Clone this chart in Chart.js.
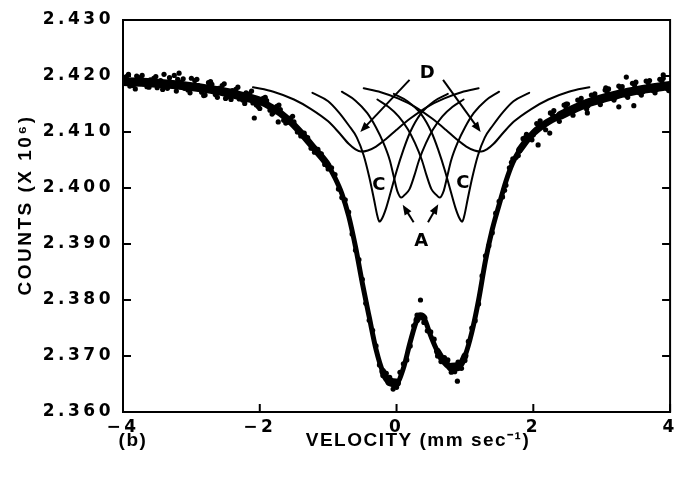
<!DOCTYPE html>
<html>
<head>
<meta charset="utf-8">
<script src="https://cdn.jsdelivr.net/npm/chart.js@4.4.0/dist/chart.umd.min.js"></script>
<style>
  html, body { margin: 0; padding: 0; background: #fff; }
</style>
</head>
<body>
<canvas id="spectrum" width="681" height="477"></canvas>
<script>
// Fitted envelope (velocity in mm/s, counts in 10^6)
const fitVel = [-4, -3.5, -3, -2.5, -2.2, -2, -1.8, -1.6, -1.4, -1.2,
  -1, -0.9, -0.8, -0.7, -0.6, -0.5, -0.4, -0.3, -0.2, -0.1,
  0, 0.1, 0.2, 0.3, 0.35, 0.4, 0.5, 0.6, 0.7, 0.8,
  0.9, 1, 1.1, 1.2, 1.3, 1.4, 1.5, 1.6, 1.7, 1.8,
  2, 2.2, 2.4, 2.8, 3.2, 3.6, 4];
const fitCounts = [2.4190, 2.4187, 2.4181, 2.4171, 2.4162, 2.4155, 2.4142, 2.4124, 2.4099, 2.4070,
  2.4040, 2.4018, 2.3990, 2.3950, 2.3895, 2.3830, 2.3770, 2.3712, 2.3672, 2.3654,
  2.3652, 2.3678, 2.3725, 2.3765, 2.3772, 2.3768, 2.3736, 2.3708, 2.3690, 2.3680,
  2.3681, 2.3700, 2.3742, 2.3800, 2.3870, 2.3926, 2.3970, 2.4012, 2.4045, 2.4068,
  2.4098, 2.4117, 2.4130, 2.4152, 2.4166, 2.4176, 2.4183];

// Measured points
const scatterVel = [-3.95, -3.90, -3.85, -3.80, -3.75, -3.70, -3.65, -3.60, -3.55, -3.50,
  -3.45, -3.40, -3.35, -3.30, -3.25, -3.20, -3.15, -3.10, -3.05, -3.00,
  -2.95, -2.90, -2.85, -2.80, -2.75, -2.70, -2.65, -2.60, -2.55, -2.50,
  -2.45, -2.40, -2.35, -2.30, -2.25, -2.20, -2.15, -2.10, -2.05, -2.00,
  -1.95, -1.90, -1.85, -1.80, -1.75, -1.70, -1.65, -1.60, -1.55, -1.50,
  -1.45, -1.40, -1.35, -1.30, -1.25, -1.20, -1.15, -1.10, -1.05, -1.00,
  -0.95, -0.90, -0.85, -0.80, -0.75, -0.70, -0.65, -0.60, -0.55, -0.50,
  -0.45, -0.40, -0.35, -0.30, -0.25, -0.20, -0.15, -0.10, -0.05, 0.00,
  0.05, 0.10, 0.15, 0.20, 0.25, 0.30, 0.35, 0.40, 0.45, 0.50,
  0.55, 0.60, 0.65, 0.70, 0.75, 0.80, 0.85, 0.90, 0.95, 1.00,
  1.05, 1.10, 1.15, 1.20, 1.25, 1.30, 1.35, 1.40, 1.45, 1.50,
  1.55, 1.60, 1.65, 1.70, 1.75, 1.80, 1.85, 1.90, 1.95, 2.00,
  2.05, 2.10, 2.15, 2.20, 2.25, 2.30, 2.35, 2.40, 2.45, 2.50,
  2.55, 2.60, 2.65, 2.70, 2.75, 2.80, 2.85, 2.90, 2.95, 3.00,
  3.05, 3.10, 3.15, 3.20, 3.25, 3.30, 3.35, 3.40, 3.45, 3.50,
  3.55, 3.60, 3.65, 3.70, 3.75, 3.80, 3.85, 3.90, 3.95];
const scatterCounts = [2.4199, 2.4182, 2.4183, 2.4200, 2.4197, 2.4186, 2.4181, 2.4193, 2.4196, 2.4179,
  2.4192, 2.4203, 2.4178, 2.4184, 2.4201, 2.4194, 2.4189, 2.4178, 2.4175, 2.4196,
  2.4192, 2.4183, 2.4171, 2.4166, 2.4188, 2.4185, 2.4167, 2.4178, 2.4183, 2.4160,
  2.4163, 2.4174, 2.4176, 2.4159, 2.4157, 2.4170, 2.4168, 2.4152, 2.4148, 2.4142,
  2.4160, 2.4156, 2.4139, 2.4135, 2.4146, 2.4140, 2.4121, 2.4117, 2.4125, 2.4118,
  2.4100, 2.4093, 2.4098, 2.4090, 2.4071, 2.4064, 2.4069, 2.4061, 2.4042, 2.4034,
  2.4036, 2.4024, 2.3998, 2.3983, 2.3979, 2.3957, 2.3918, 2.3889, 2.3872, 2.3837,
  2.3794, 2.3764, 2.3746, 2.3718, 2.3684, 2.3665, 2.3669, 2.3662, 2.3641, 2.3644,
  2.3671, 2.3686, 2.3693, 2.3718, 2.3754, 2.3773, 2.3800, 2.3760, 2.3745, 2.3743,
  2.3730, 2.3700, 2.3690, 2.3697, 2.3693, 2.3671, 2.3672, 2.3689, 2.3678, 2.3692,
  2.3726, 2.3750, 2.3763, 2.3793, 2.3843, 2.3879, 2.3897, 2.3920, 2.3955, 2.3976,
  2.3984, 2.4005, 2.4036, 2.4052, 2.4055, 2.4066, 2.4088, 2.4096, 2.4090, 2.4095,
  2.4115, 2.4120, 2.4111, 2.4116, 2.4134, 2.4138, 2.4125, 2.4129, 2.4148, 2.4150,
  2.4136, 2.4139, 2.4157, 2.4160, 2.4145, 2.4147, 2.4166, 2.4168, 2.4154, 2.4156,
  2.4175, 2.4177, 2.4160, 2.4162, 2.4182, 2.4181, 2.4166, 2.4169, 2.4187, 2.4189,
  2.4170, 2.4172, 2.4191, 2.4192, 2.4174, 2.4176, 2.4194, 2.4196, 2.4178];
// extra points in the shallow wings
const wingVel = [-3.92, -3.82, -3.72, -3.62, -3.52, -3.42, -3.32, -3.22, -3.12, -3.02,
  -2.92, -2.82, -2.72, -2.62, -2.52, -2.42, -2.32, -2.22, -2.12, -2.02,
  -1.92, -1.82, -1.72, -1.62, -1.52,
  1.58, 1.68, 1.78, 1.88, 1.98, 2.08, 2.18, 2.28, 2.38, 2.48,
  2.58, 2.68, 2.78, 2.88, 2.98, 3.08, 3.18, 3.28, 3.38, 3.48,
  3.58, 3.68, 3.78, 3.88, 3.98];
const wingCounts = [2.4203, 2.4177, 2.4201, 2.4180, 2.4199, 2.4176, 2.4197, 2.4173, 2.4195, 2.4170,
  2.4194, 2.4165, 2.4190, 2.4162, 2.4186, 2.4158, 2.4180, 2.4151, 2.4173, 2.4145,
  2.4162, 2.4132, 2.4148, 2.4116, 2.4128,
  2.3996, 2.4046, 2.4058, 2.4090, 2.4086, 2.4113, 2.4104, 2.4131, 2.4119, 2.4143,
  2.4130, 2.4156, 2.4141, 2.4164, 2.4149, 2.4171, 2.4157, 2.4178, 2.4162, 2.4184,
  2.4166, 2.4188, 2.4170, 2.4191, 2.4174];
// stray points off the band
const strayVel = [-3.18, -2.08, -1.73, 0.89, 2.07, 2.24, 2.48, 2.79, 3.06, 3.25, 3.36, 3.47, 3.90];
const strayCounts = [2.4205, 2.4125, 2.4118, 2.3655, 2.4077, 2.4098, 2.4150, 2.4134, 2.4179, 2.4145, 2.4198, 2.4147, 2.4202];

// Component sub-spectra
const dLeftVel = [-2.10, -1.80, -1.50, -1.25, -1.00, -0.85, -0.70, -0.60, -0.52, -0.42, -0.30, -0.15, 0.00, 0.20, 0.45, 0.70, 0.95, 1.20];
const dLeftCounts = [2.4180, 2.4172, 2.4158, 2.4141, 2.4119, 2.4100, 2.4079, 2.4069, 2.4065, 2.4067, 2.4074, 2.4088, 2.4104, 2.4124, 2.4145, 2.4160, 2.4171, 2.4178];
const dRightVel = [-0.48, -0.23, 0.02, 0.27, 0.52, 0.72, 0.87, 1.02, 1.14, 1.24, 1.32, 1.42, 1.57, 1.72, 1.97, 2.22, 2.52, 2.82];
const dRightCounts = [2.4178, 2.4171, 2.4160, 2.4145, 2.4124, 2.4104, 2.4088, 2.4074, 2.4067, 2.4065, 2.4069, 2.4079, 2.4100, 2.4119, 2.4141, 2.4158, 2.4172, 2.4180];
const cLeftVel = [-1.23, -1.00, -0.85, -0.70, -0.58, -0.48, -0.40, -0.33, -0.28, -0.25, -0.21, -0.15, -0.08, 0.00, 0.10, 0.20, 0.35, 0.55, 0.75];
const cLeftCounts = [2.4170, 2.4155, 2.4136, 2.4112, 2.4090, 2.4058, 2.4020, 2.3980, 2.3950, 2.3940, 2.3946, 2.3965, 2.3995, 2.4030, 2.4068, 2.4100, 2.4132, 2.4155, 2.4168];
const cRightVel = [-0.04, 0.16, 0.36, 0.51, 0.61, 0.71, 0.79, 0.86, 0.92, 0.96, 0.99, 1.04, 1.11, 1.19, 1.29, 1.41, 1.56, 1.71, 1.94];
const cRightCounts = [2.4168, 2.4155, 2.4132, 2.4100, 2.4068, 2.4030, 2.3995, 2.3965, 2.3946, 2.3940, 2.3950, 2.3980, 2.4020, 2.4058, 2.4090, 2.4112, 2.4136, 2.4155, 2.4170];
const aLeftVel = [-0.80, -0.60, -0.43, -0.30, -0.19, -0.10, -0.04, 0.01, 0.07, 0.12, 0.19, 0.26, 0.33, 0.43, 0.53, 0.67, 0.82, 0.98];
const aLeftCounts = [2.4172, 2.4156, 2.4134, 2.4108, 2.4080, 2.4050, 2.4020, 2.3995, 2.3983, 2.3988, 2.3998, 2.4022, 2.4050, 2.4080, 2.4104, 2.4128, 2.4145, 2.4158];
const aRightVel = [-0.28, -0.12, 0.03, 0.17, 0.27, 0.37, 0.44, 0.51, 0.58, 0.63, 0.69, 0.74, 0.80, 0.89, 1.00, 1.13, 1.30, 1.50];
const aRightCounts = [2.4158, 2.4145, 2.4128, 2.4104, 2.4080, 2.4050, 2.4022, 2.3998, 2.3988, 2.3983, 2.3995, 2.4020, 2.4050, 2.4080, 2.4108, 2.4134, 2.4156, 2.4172];

const yTicks = [2.36, 2.37, 2.38, 2.39, 2.40, 2.41, 2.42, 2.43];
const xTicks = [-4, -2, 0, 2, 4];

const toPoints = (xs, ys) => xs.map((v, i) => ({ x: v, y: ys[i] }));

function curve(xs, ys, width) {
  return {
    data: toPoints(xs, ys),
    showLine: true,
    borderColor: '#000',
    borderWidth: width,
    pointRadius: 0,
    cubicInterpolationMode: 'monotone',
    borderCapStyle: 'round',
    borderJoinStyle: 'round',
    fill: false
  };
}

// the data band looks thicker where the spectrum is flat
function bandWidth(ctx) {
  const dx = Math.abs(ctx.p1.parsed.x - ctx.p0.parsed.x);
  const slope = Math.abs(ctx.p1.parsed.y - ctx.p0.parsed.y) / dx;
  if (slope < 0.006) return 9;
  if (slope < 0.02) return 7;
  return 5;
}

// arrows + labels for the components, placed in data units
const notes = [
  { text: 'D', x: 0.45, y: 2.4205 },
  { text: 'C', x: -0.26, y: 2.4005 },
  { text: 'C', x: 0.97, y: 2.4009 },
  { text: 'A', x: 0.36, y: 2.3904 }
];
const arrows = [
  [0.19, 2.4193, -0.53, 2.4100],
  [0.68, 2.4193, 1.23, 2.4100],
  [0.25, 2.3939, 0.09, 2.3970],
  [0.46, 2.3939, 0.61, 2.3971]
];

const decor = {
  id: 'decor',
  beforeDraw(chart) {
    chart.ctx.letterSpacing = '3.5px';
  },
  afterDraw(chart) {
    const { ctx, chartArea: a } = chart;
    const xs = chart.scales.x, ys = chart.scales.y;
    ctx.save();
    ctx.letterSpacing = '0px';
    ctx.strokeStyle = '#000';
    ctx.fillStyle = '#000';
    ctx.lineWidth = 2;
    ctx.strokeRect(a.left, a.top, a.right - a.left, a.bottom - a.top);

    // inward tick marks
    ys.ticks.forEach(t => {
      const py = ys.getPixelForValue(t.value);
      ctx.beginPath();
      ctx.moveTo(a.left, py); ctx.lineTo(a.left + 8, py);
      ctx.moveTo(a.right, py); ctx.lineTo(a.right - 8, py);
      ctx.stroke();
    });
    xs.ticks.forEach(t => {
      const px = xs.getPixelForValue(t.value);
      ctx.beginPath();
      ctx.moveTo(px, a.bottom); ctx.lineTo(px, a.bottom - 8);
      ctx.stroke();
    });

    // arrows
    arrows.forEach(([x1, y1, x2, y2]) => {
      const p1x = xs.getPixelForValue(x1), p1y = ys.getPixelForValue(y1);
      const p2x = xs.getPixelForValue(x2), p2y = ys.getPixelForValue(y2);
      const ang = Math.atan2(p2y - p1y, p2x - p1x);
      ctx.beginPath();
      ctx.moveTo(p1x, p1y);
      ctx.lineTo(p2x - 6 * Math.cos(ang), p2y - 6 * Math.sin(ang));
      ctx.stroke();
      ctx.beginPath();
      ctx.moveTo(p2x, p2y);
      ctx.lineTo(p2x - 10 * Math.cos(ang) + 4 * Math.sin(ang), p2y - 10 * Math.sin(ang) - 4 * Math.cos(ang));
      ctx.lineTo(p2x - 10 * Math.cos(ang) - 4 * Math.sin(ang), p2y - 10 * Math.sin(ang) + 4 * Math.cos(ang));
      ctx.closePath();
      ctx.fill();
    });

    ctx.font = 'bold 18px "DejaVu Sans"';
    ctx.textAlign = 'center';
    ctx.textBaseline = 'middle';
    notes.forEach(n => {
      ctx.fillText(n.text, xs.getPixelForValue(n.x), ys.getPixelForValue(n.y));
    });

    // axis titles
    ctx.font = 'bold 19px "Liberation Sans"';
    ctx.letterSpacing = '1.5px';
    ctx.fillText('VELOCITY (mm sec\u207B\u00B9)', 418, 441);
    ctx.fillText('(b)', 133, 441);
    ctx.save();
    ctx.translate(26, 205);
    ctx.rotate(-Math.PI / 2);
    ctx.letterSpacing = '2.5px';
    ctx.fillText('COUNTS (X 10\u2076)', 0, 0);
    ctx.restore();

    ctx.restore();
  }
};

const tickFont = { family: 'DejaVu Sans', size: 17, weight: 'bold' };

const fitLine = curve(fitVel, fitCounts, 5);
fitLine.segment = { borderWidth: bandWidth };

new Chart(document.getElementById('spectrum'), {
  type: 'scatter',
  data: {
    datasets: [
      {
        data: toPoints(scatterVel, scatterCounts)
          .concat(toPoints(wingVel, wingCounts))
          .concat(toPoints(strayVel, strayCounts)),
        pointRadius: 2.6,
        pointBorderWidth: 0,
        backgroundColor: '#000'
      },
      fitLine,
      curve(dLeftVel, dLeftCounts, 2),
      curve(dRightVel, dRightCounts, 2),
      curve(cLeftVel, cLeftCounts, 2),
      curve(cRightVel, cRightCounts, 2),
      curve(aLeftVel, aLeftCounts, 2),
      curve(aRightVel, aRightCounts, 2)
    ]
  },
  options: {
    responsive: false,
    animation: false,
    devicePixelRatio: 1,
    layout: { padding: { top: 20, right: 4, left: 0, bottom: 0 } },
    plugins: { legend: { display: false }, tooltip: { enabled: false } },
    scales: {
      x: {
        type: 'linear',
        min: -4, max: 4,
        afterFit: s => { s.height = 65; },
        afterBuildTicks: s => { s.ticks = xTicks.map(v => ({ value: v })); },
        grid: { display: false, drawTicks: false },
        border: { display: false },
        ticks: {
          color: '#000',
          font: tickFont,
          padding: 5,
          maxRotation: 0,
          callback: v => (v < 0 ? '\u2212' + Math.abs(v) : String(v))
        }
      },
      y: {
        min: 2.36, max: 2.43,
        afterFit: s => { s.width = 123; },
        afterBuildTicks: s => { s.ticks = yTicks.map(v => ({ value: v })); },
        grid: { display: false, drawTicks: false },
        border: { display: false },
        ticks: {
          color: '#000',
          font: tickFont,
          padding: 9,
          callback: v => v.toFixed(3)
        }
      }
    }
  },
  plugins: [decor]
});
</script>
</body>
</html>
